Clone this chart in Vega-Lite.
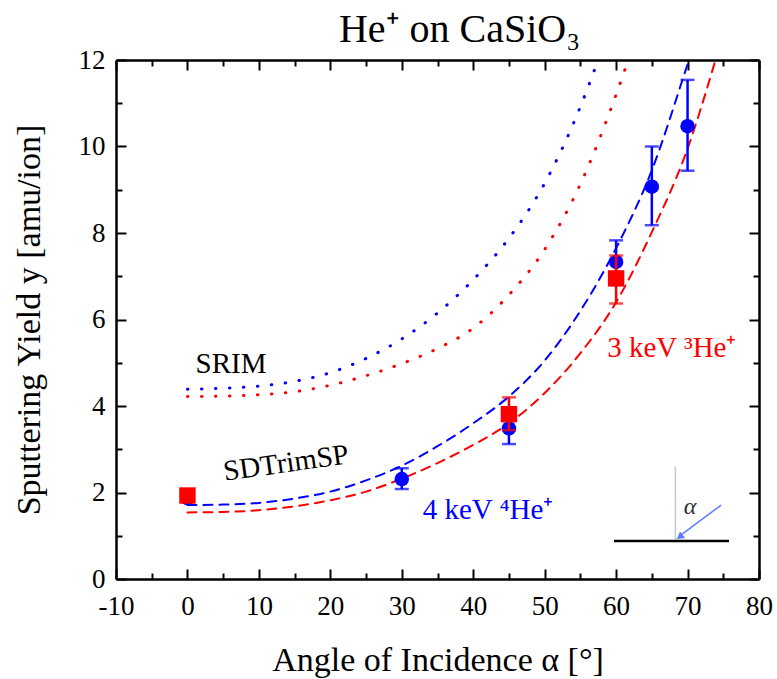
{
  "$schema": "https://vega.github.io/schema/vega-lite/v6.json",
  "width": 643,
  "height": 519,
  "autosize": "none",
  "padding": {"left": 116, "top": 60, "right": 18, "bottom": 100},
  "background": "white",
  "config": {"view": {"stroke": null}, "font": "Liberation Serif", "axis": {"labelFont": "Liberation Serif", "titleFont": "Liberation Serif"}, "text": {"font": "Liberation Serif"}},
  "title": {"text": "He⁺ on CaSiO₃", "font": "Liberation Serif", "fontSize": 40, "fontWeight": "normal", "color": "black", "anchor": "middle", "dx": 22, "offset": -4},
  "datasets": {
    "curves": [
      {"model": "SDTrimSP", "beam": "4 keV", "angle": 0, "yield": 1.71},
      {"model": "SDTrimSP", "beam": "4 keV", "angle": 5, "yield": 1.72},
      {"model": "SDTrimSP", "beam": "4 keV", "angle": 10, "yield": 1.76},
      {"model": "SDTrimSP", "beam": "4 keV", "angle": 15, "yield": 1.86},
      {"model": "SDTrimSP", "beam": "4 keV", "angle": 20, "yield": 2.02},
      {"model": "SDTrimSP", "beam": "4 keV", "angle": 25, "yield": 2.28},
      {"model": "SDTrimSP", "beam": "4 keV", "angle": 30, "yield": 2.62},
      {"model": "SDTrimSP", "beam": "4 keV", "angle": 35, "yield": 3.07},
      {"model": "SDTrimSP", "beam": "4 keV", "angle": 40, "yield": 3.6},
      {"model": "SDTrimSP", "beam": "4 keV", "angle": 45, "yield": 4.22},
      {"model": "SDTrimSP", "beam": "4 keV", "angle": 50, "yield": 5.05},
      {"model": "SDTrimSP", "beam": "4 keV", "angle": 55, "yield": 6.2},
      {"model": "SDTrimSP", "beam": "4 keV", "angle": 60, "yield": 7.65},
      {"model": "SDTrimSP", "beam": "4 keV", "angle": 65, "yield": 9.45},
      {"model": "SDTrimSP", "beam": "4 keV", "angle": 70, "yield": 11.9},
      {"model": "SDTrimSP", "beam": "4 keV", "angle": 70.3, "yield": 12.05},
      {"model": "SDTrimSP", "beam": "3 keV", "angle": 0, "yield": 1.54},
      {"model": "SDTrimSP", "beam": "3 keV", "angle": 5, "yield": 1.55},
      {"model": "SDTrimSP", "beam": "3 keV", "angle": 10, "yield": 1.59},
      {"model": "SDTrimSP", "beam": "3 keV", "angle": 15, "yield": 1.68},
      {"model": "SDTrimSP", "beam": "3 keV", "angle": 20, "yield": 1.82},
      {"model": "SDTrimSP", "beam": "3 keV", "angle": 25, "yield": 2.02},
      {"model": "SDTrimSP", "beam": "3 keV", "angle": 30, "yield": 2.32},
      {"model": "SDTrimSP", "beam": "3 keV", "angle": 35, "yield": 2.68},
      {"model": "SDTrimSP", "beam": "3 keV", "angle": 40, "yield": 3.1},
      {"model": "SDTrimSP", "beam": "3 keV", "angle": 45, "yield": 3.6},
      {"model": "SDTrimSP", "beam": "3 keV", "angle": 50, "yield": 4.3},
      {"model": "SDTrimSP", "beam": "3 keV", "angle": 55, "yield": 5.22},
      {"model": "SDTrimSP", "beam": "3 keV", "angle": 60, "yield": 6.4},
      {"model": "SDTrimSP", "beam": "3 keV", "angle": 65, "yield": 8.02},
      {"model": "SDTrimSP", "beam": "3 keV", "angle": 70, "yield": 9.95},
      {"model": "SDTrimSP", "beam": "3 keV", "angle": 74, "yield": 12.05},
      {"model": "SRIM", "beam": "4 keV", "angle": 0, "yield": 4.39},
      {"model": "SRIM", "beam": "4 keV", "angle": 5, "yield": 4.41},
      {"model": "SRIM", "beam": "4 keV", "angle": 10, "yield": 4.46},
      {"model": "SRIM", "beam": "4 keV", "angle": 15, "yield": 4.57},
      {"model": "SRIM", "beam": "4 keV", "angle": 20, "yield": 4.77},
      {"model": "SRIM", "beam": "4 keV", "angle": 25, "yield": 5.1},
      {"model": "SRIM", "beam": "4 keV", "angle": 30, "yield": 5.55},
      {"model": "SRIM", "beam": "4 keV", "angle": 35, "yield": 6.15},
      {"model": "SRIM", "beam": "4 keV", "angle": 40, "yield": 6.92},
      {"model": "SRIM", "beam": "4 keV", "angle": 45, "yield": 7.88},
      {"model": "SRIM", "beam": "4 keV", "angle": 50, "yield": 9.15},
      {"model": "SRIM", "beam": "4 keV", "angle": 55, "yield": 10.92},
      {"model": "SRIM", "beam": "4 keV", "angle": 57.6, "yield": 12.05},
      {"model": "SRIM", "beam": "3 keV", "angle": 0, "yield": 4.22},
      {"model": "SRIM", "beam": "3 keV", "angle": 5, "yield": 4.23},
      {"model": "SRIM", "beam": "3 keV", "angle": 10, "yield": 4.26},
      {"model": "SRIM", "beam": "3 keV", "angle": 15, "yield": 4.33},
      {"model": "SRIM", "beam": "3 keV", "angle": 20, "yield": 4.48},
      {"model": "SRIM", "beam": "3 keV", "angle": 25, "yield": 4.7},
      {"model": "SRIM", "beam": "3 keV", "angle": 30, "yield": 4.98},
      {"model": "SRIM", "beam": "3 keV", "angle": 35, "yield": 5.33},
      {"model": "SRIM", "beam": "3 keV", "angle": 40, "yield": 5.8},
      {"model": "SRIM", "beam": "3 keV", "angle": 45, "yield": 6.57},
      {"model": "SRIM", "beam": "3 keV", "angle": 50, "yield": 7.62},
      {"model": "SRIM", "beam": "3 keV", "angle": 55, "yield": 9.13},
      {"model": "SRIM", "beam": "3 keV", "angle": 60, "yield": 11.2},
      {"model": "SRIM", "beam": "3 keV", "angle": 61.8, "yield": 12.05}
    ],
    "meas": [
      {"beam": "4 keV", "angle": 0, "y": 1.87, "lo": 1.87, "hi": 1.87},
      {"beam": "4 keV", "angle": 30, "y": 2.31, "lo": 2.08, "hi": 2.56},
      {"beam": "4 keV", "angle": 45, "y": 3.48, "lo": 3.12, "hi": 3.86},
      {"beam": "4 keV", "angle": 60, "y": 7.33, "lo": 6.85, "hi": 7.83},
      {"beam": "4 keV", "angle": 65, "y": 9.07, "lo": 8.18, "hi": 10.0},
      {"beam": "4 keV", "angle": 70, "y": 10.47, "lo": 9.44, "hi": 11.54},
      {"beam": "3 keV", "angle": 0, "y": 1.93, "lo": 1.93, "hi": 1.93},
      {"beam": "3 keV", "angle": 45, "y": 3.81, "lo": 3.44, "hi": 4.2},
      {"beam": "3 keV", "angle": 60, "y": 6.95, "lo": 6.37, "hi": 7.48}
    ]
  },
  "resolve": {"axis": {"x": "independent", "y": "independent"}},
  "layer": [
    {
      "data": {"name": "curves"},
      "mark": {"type": "line", "strokeCap": "round", "clip": true, "interpolate": "monotone"},
      "encoding": {
        "x": {"field": "angle", "type": "quantitative", "scale": {"domain": [-10, 80], "nice": false, "zero": false},
          "axis": {"orient": "bottom", "values": [-10, 0, 10, 20, 30, 40, 50, 60, 70, 80], "grid": false,
            "domain": true, "domainColor": "black", "domainWidth": 2.5,
            "ticks": true, "tickSize": -10, "tickWidth": 2, "tickColor": "black",
            "labels": true, "labelExpr": "'' + datum.value", "labelFont": "Liberation Serif", "labelFontSize": 27, "labelColor": "black", "labelPadding": 24, "labelFlush": false, "labelOverlap": false,
            "title": "Angle of Incidence α [°]", "titleFont": "Liberation Serif", "titleFontSize": 34, "titleFontWeight": "normal", "titleColor": "black", "titleBaseline": "alphabetic", "titleY": 91}},
        "y": {"field": "yield", "type": "quantitative", "scale": {"domain": [0, 12], "nice": false, "zero": false},
          "axis": {"orient": "left", "values": [0, 2, 4, 6, 8, 10, 12], "grid": false,
            "domain": true, "domainColor": "black", "domainWidth": 2.5,
            "ticks": true, "tickSize": -10, "tickWidth": 2, "tickColor": "black",
            "labels": true, "labelExpr": "'' + datum.value", "labelFont": "Liberation Serif", "labelFontSize": 27, "labelColor": "black", "labelPadding": 21, "labelFlush": false, "labelOverlap": false,
            "title": "Sputtering Yield y [amu/ion]", "titleFont": "Liberation Serif", "titleFontSize": 34, "titleFontWeight": "normal", "titleColor": "black", "titleBaseline": "middle", "titleX": -87}},
        "color": {"field": "beam", "type": "nominal", "scale": {"domain": ["4 keV", "3 keV"], "range": ["#0000ff", "#ff0000"]}, "legend": null},
        "strokeDash": {"field": "model", "type": "nominal", "scale": {"domain": ["SDTrimSP", "SRIM"], "range": [[9, 7], [0.5, 13.5]]}, "legend": null},
        "size": {"field": "model", "type": "nominal", "scale": {"domain": ["SDTrimSP", "SRIM"], "range": [2, 3]}, "legend": null}
      }
    },
    {
      "data": {"name": "meas"},
      "transform": [{"filter": "datum.beam === '4 keV'"}],
      "mark": {"type": "rule", "strokeWidth": 2.5, "color": "#0000ff"},
      "encoding": {
        "x": {"field": "angle", "type": "quantitative", "scale": {"domain": [-10, 80], "nice": false, "zero": false},
          "axis": {"orient": "top", "values": [-10, 0, 10, 20, 30, 40, 50, 60, 70, 80], "grid": false,
            "domain": true, "domainColor": "black", "domainWidth": 2.5,
            "ticks": true, "tickSize": -10, "tickWidth": 2, "tickColor": "black", "labels": false, "title": null}},
        "y": {"field": "lo", "type": "quantitative", "scale": {"domain": [0, 12], "nice": false, "zero": false},
          "axis": {"orient": "right", "values": [0, 2, 4, 6, 8, 10, 12], "grid": false,
            "domain": true, "domainColor": "black", "domainWidth": 2.5,
            "ticks": true, "tickSize": -10, "tickWidth": 2, "tickColor": "black", "labels": false, "title": null}},
        "y2": {"field": "hi"}
      }
    },
    {
      "data": {"name": "meas"},
      "transform": [{"filter": "datum.beam === '4 keV' && datum.hi > datum.lo"}, {"fold": ["lo", "hi"], "as": ["end", "yv"]}],
      "mark": {"type": "tick", "orient": "horizontal", "size": 14, "thickness": 2.5, "color": "#0000ff"},
      "encoding": {
        "x": {"field": "angle", "type": "quantitative", "scale": {"domain": [-10, 80], "nice": false, "zero": false},
          "axis": {"orient": "bottom", "values": [-5, 5, 15, 25, 35, 45, 55, 65, 75], "grid": false, "domain": false,
            "ticks": true, "tickSize": -6, "tickWidth": 2, "tickColor": "black", "labels": false, "title": null}},
        "y": {"field": "yv", "type": "quantitative", "scale": {"domain": [0, 12], "nice": false, "zero": false},
          "axis": {"orient": "left", "values": [1, 3, 5, 7, 9, 11], "grid": false, "domain": false,
            "ticks": true, "tickSize": -6, "tickWidth": 2, "tickColor": "black", "labels": false, "title": null}}
      }
    },
    {
      "data": {"name": "meas"},
      "transform": [{"filter": "datum.beam === '4 keV'"}],
      "mark": {"type": "point", "shape": "circle", "filled": true, "size": 210, "color": "#0000ff", "opacity": 1},
      "encoding": {
        "x": {"field": "angle", "type": "quantitative", "scale": {"domain": [-10, 80], "nice": false, "zero": false},
          "axis": {"orient": "top", "values": [-5, 5, 15, 25, 35, 45, 55, 65, 75], "grid": false, "domain": false,
            "ticks": true, "tickSize": -6, "tickWidth": 2, "tickColor": "black", "labels": false, "title": null}},
        "y": {"field": "y", "type": "quantitative", "scale": {"domain": [0, 12], "nice": false, "zero": false},
          "axis": {"orient": "right", "values": [1, 3, 5, 7, 9, 11], "grid": false, "domain": false,
            "ticks": true, "tickSize": -6, "tickWidth": 2, "tickColor": "black", "labels": false, "title": null}}
      }
    },
    {
      "data": {"name": "meas"},
      "transform": [{"filter": "datum.beam === '3 keV' && datum.hi > datum.lo"}],
      "mark": {"type": "rule", "strokeWidth": 2.5, "color": "#ff0000"},
      "encoding": {
        "x": {"field": "angle", "type": "quantitative", "scale": {"domain": [-10, 80], "nice": false, "zero": false}, "axis": null},
        "y": {"field": "lo", "type": "quantitative", "scale": {"domain": [0, 12], "nice": false, "zero": false}, "axis": null},
        "y2": {"field": "hi"}
      }
    },
    {
      "data": {"name": "meas"},
      "transform": [{"filter": "datum.beam === '3 keV' && datum.hi > datum.lo"}, {"fold": ["lo", "hi"], "as": ["end", "yv"]}],
      "mark": {"type": "tick", "orient": "horizontal", "size": 14, "thickness": 2.5, "color": "#ff0000"},
      "encoding": {
        "x": {"field": "angle", "type": "quantitative", "scale": {"domain": [-10, 80], "nice": false, "zero": false}, "axis": null},
        "y": {"field": "yv", "type": "quantitative", "scale": {"domain": [0, 12], "nice": false, "zero": false}, "axis": null}
      }
    },
    {
      "data": {"name": "meas"},
      "transform": [{"filter": "datum.beam === '3 keV'"}],
      "mark": {"type": "point", "shape": "square", "filled": true, "size": 270, "color": "#ff0000", "opacity": 1},
      "encoding": {
        "x": {"field": "angle", "type": "quantitative", "scale": {"domain": [-10, 80], "nice": false, "zero": false}, "axis": null},
        "y": {"field": "y", "type": "quantitative", "scale": {"domain": [0, 12], "nice": false, "zero": false}, "axis": null}
      }
    },
    {
      "data": {"values": [{"x": 6.1, "y": 4.97, "label": "SRIM"}]},
      "mark": {"type": "text", "font": "Liberation Serif", "fontSize": 29, "color": "black", "align": "center", "baseline": "middle"},
      "encoding": {
        "x": {"field": "x", "type": "quantitative", "scale": {"domain": [-10, 80], "nice": false, "zero": false}, "axis": null},
        "y": {"field": "y", "type": "quantitative", "scale": {"domain": [0, 12], "nice": false, "zero": false}, "axis": null},
        "text": {"field": "label"}
      }
    },
    {
      "data": {"values": [{"x": 13.8, "y": 2.68, "label": "SDTrimSP"}]},
      "mark": {"type": "text", "font": "Liberation Serif", "fontSize": 29, "color": "black", "align": "center", "baseline": "middle", "angle": -8},
      "encoding": {
        "x": {"field": "x", "type": "quantitative", "scale": {"domain": [-10, 80], "nice": false, "zero": false}, "axis": null},
        "y": {"field": "y", "type": "quantitative", "scale": {"domain": [0, 12], "nice": false, "zero": false}, "axis": null},
        "text": {"field": "label"}
      }
    },
    {
      "data": {"values": [{"x": 42.07, "y": 1.6, "label": "4 keV ⁴He⁺"}]},
      "mark": {"type": "text", "font": "Liberation Serif", "fontSize": 29, "color": "#0000ff", "align": "center", "baseline": "middle"},
      "encoding": {
        "x": {"field": "x", "type": "quantitative", "scale": {"domain": [-10, 80], "nice": false, "zero": false}, "axis": null},
        "y": {"field": "y", "type": "quantitative", "scale": {"domain": [0, 12], "nice": false, "zero": false}, "axis": null},
        "text": {"field": "label"}
      }
    },
    {
      "data": {"values": [{"x": 67.8, "y": 5.34, "label": "3 keV ³He⁺"}]},
      "mark": {"type": "text", "font": "Liberation Serif", "fontSize": 29, "color": "#ff0000", "align": "center", "baseline": "middle"},
      "encoding": {
        "x": {"field": "x", "type": "quantitative", "scale": {"domain": [-10, 80], "nice": false, "zero": false}, "axis": null},
        "y": {"field": "y", "type": "quantitative", "scale": {"domain": [0, 12], "nice": false, "zero": false}, "axis": null},
        "text": {"field": "label"}
      }
    },
    {
      "data": {"values": [{"x": 68.3, "y1": 0.88, "y2": 2.6}]},
      "mark": {"type": "rule", "color": "#c8c8c8", "strokeWidth": 1.5},
      "encoding": {
        "x": {"field": "x", "type": "quantitative", "scale": {"domain": [-10, 80], "nice": false, "zero": false}, "axis": null},
        "y": {"field": "y1", "type": "quantitative", "scale": {"domain": [0, 12], "nice": false, "zero": false}, "axis": null},
        "y2": {"field": "y2"}
      }
    },
    {
      "data": {"values": [{"x1": 59.7, "x2": 75.8, "y": 0.88}]},
      "mark": {"type": "rule", "color": "black", "strokeWidth": 2.5},
      "encoding": {
        "x": {"field": "x1", "type": "quantitative", "scale": {"domain": [-10, 80], "nice": false, "zero": false}, "axis": null},
        "x2": {"field": "x2"},
        "y": {"field": "y", "type": "quantitative", "scale": {"domain": [0, 12], "nice": false, "zero": false}, "axis": null}
      }
    },
    {
      "data": {"values": [{"x1": 74.7, "y1": 1.71, "x2": 69.2, "y2": 1.03}]},
      "mark": {"type": "rule", "color": "#5a7dff", "strokeWidth": 1.5},
      "encoding": {
        "x": {"field": "x1", "type": "quantitative", "scale": {"domain": [-10, 80], "nice": false, "zero": false}, "axis": null},
        "x2": {"field": "x2"},
        "y": {"field": "y1", "type": "quantitative", "scale": {"domain": [0, 12], "nice": false, "zero": false}, "axis": null},
        "y2": {"field": "y2"}
      }
    },
    {
      "data": {"values": [{"x": 68.9, "y": 0.97}]},
      "mark": {"type": "point", "shape": "triangle-up", "filled": true, "size": 70, "color": "#5a7dff", "opacity": 1, "angle": 232},
      "encoding": {
        "x": {"field": "x", "type": "quantitative", "scale": {"domain": [-10, 80], "nice": false, "zero": false}, "axis": null},
        "y": {"field": "y", "type": "quantitative", "scale": {"domain": [0, 12], "nice": false, "zero": false}, "axis": null}
      }
    },
    {
      "data": {"values": [{"x": 70.35, "y": 1.66, "label": "α"}]},
      "mark": {"type": "text", "font": "Liberation Serif", "fontSize": 24, "fontStyle": "italic", "color": "#333333", "align": "center", "baseline": "middle"},
      "encoding": {
        "x": {"field": "x", "type": "quantitative", "scale": {"domain": [-10, 80], "nice": false, "zero": false}, "axis": null},
        "y": {"field": "y", "type": "quantitative", "scale": {"domain": [0, 12], "nice": false, "zero": false}, "axis": null},
        "text": {"field": "label"}
      }
    }
  ]
}
